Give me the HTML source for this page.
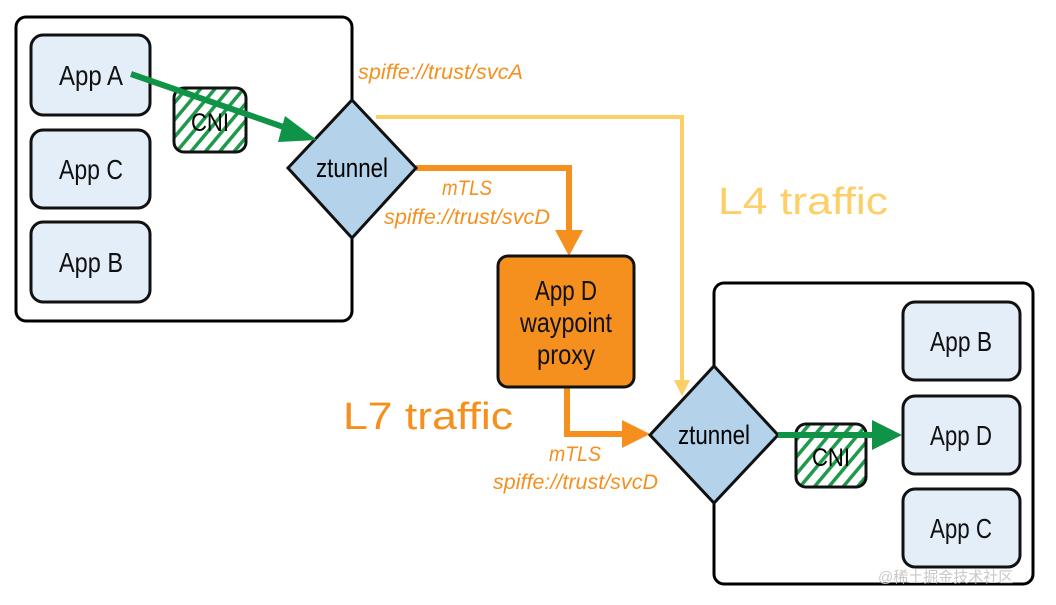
<!DOCTYPE html>
<html><head><meta charset="utf-8"><style>html,body{margin:0;padding:0;background:#fff}svg{display:block}</style></head><body>
<svg width="1056" height="605" viewBox="0 0 1056 605" xmlns="http://www.w3.org/2000/svg" font-family="Liberation Sans, sans-serif">
<defs>
<pattern id="h" width="11" height="11" patternUnits="userSpaceOnUse" patternTransform="rotate(40)">
<rect width="11" height="11" fill="#fff"/><rect x="0" y="0" width="3.5" height="11" fill="#1e9a4a"/>
</pattern>
</defs>
<rect x="16" y="17" width="336" height="304" rx="10" fill="#fff" stroke="#000" stroke-width="3"/>
<rect x="714" y="283" width="319" height="301" rx="10" fill="#fff" stroke="#000" stroke-width="3"/>
<g fill="#e3eef8" stroke="#111" stroke-width="3">
<rect x="31" y="35" width="119" height="80" rx="12"/>
<rect x="31" y="130" width="119" height="78" rx="12"/>
<rect x="31" y="222" width="119" height="80" rx="12"/>
<rect x="903" y="302" width="117" height="78" rx="12"/>
<rect x="903" y="396" width="117" height="78" rx="12"/>
<rect x="903" y="489" width="117" height="78" rx="12"/>
</g>
<g font-size="28" text-anchor="middle" fill="#111">
<text x="91" y="85" textLength="64" lengthAdjust="spacingAndGlyphs">App A</text>
<text x="91" y="179" textLength="64" lengthAdjust="spacingAndGlyphs">App C</text>
<text x="91" y="272" textLength="64" lengthAdjust="spacingAndGlyphs">App B</text>
<text x="961" y="351" textLength="62" lengthAdjust="spacingAndGlyphs">App B</text>
<text x="961" y="445" textLength="62" lengthAdjust="spacingAndGlyphs">App D</text>
<text x="961" y="538" textLength="62" lengthAdjust="spacingAndGlyphs">App C</text>
</g>
<rect x="174" y="88" width="72" height="64" rx="10" fill="url(#h)" stroke="#111" stroke-width="3"/>
<text x="210" y="131" font-size="25" text-anchor="middle" textLength="38" lengthAdjust="spacingAndGlyphs">CNI</text>
<rect x="796" y="424" width="70" height="63" rx="10" fill="url(#h)" stroke="#111" stroke-width="3"/>
<text x="831" y="466" font-size="25" text-anchor="middle" textLength="38" lengthAdjust="spacingAndGlyphs">CNI</text>
<polyline points="376,117 682,117 682,382" fill="none" stroke="#fcd066" stroke-width="4"/>
<polygon points="674,380 690,380 682,396" fill="#fcd066"/>
<polyline points="416,168 569,168 569,232" fill="none" stroke="#f5901e" stroke-width="6"/>
<polygon points="555,230 583,230 569,256" fill="#f5901e"/>
<polyline points="567,387 567,434 626,434" fill="none" stroke="#f5901e" stroke-width="6"/>
<polygon points="622,420 622,448 650,434" fill="#f5901e"/>
<rect x="498" y="256" width="136" height="131" rx="10" fill="#f5901e" stroke="#111" stroke-width="3"/>
<g font-size="28" text-anchor="middle" fill="#111">
<text x="566" y="300" textLength="62" lengthAdjust="spacingAndGlyphs">App D</text>
<text x="566" y="332" textLength="92" lengthAdjust="spacingAndGlyphs">waypoint</text>
<text x="566" y="364" textLength="58" lengthAdjust="spacingAndGlyphs">proxy</text>
</g>
<polygon points="352,100 416,168 352,238 288,168" fill="#b4d3ea" stroke="#111" stroke-width="3"/>
<text x="352" y="177" font-size="27" text-anchor="middle" textLength="72" lengthAdjust="spacingAndGlyphs">ztunnel</text>
<polygon points="714,366 778,435 714,503 650,435" fill="#b4d3ea" stroke="#111" stroke-width="3"/>
<text x="714" y="444" font-size="27" text-anchor="middle" textLength="72" lengthAdjust="spacingAndGlyphs">ztunnel</text>
<line x1="131" y1="74" x2="295" y2="131" stroke="#0f9347" stroke-width="6"/>
<polygon points="285,116 317,140 278,142" fill="#0f9347"/>
<line x1="778" y1="435" x2="876" y2="435" stroke="#0f9347" stroke-width="6"/>
<polygon points="872,420 902,435 872,450" fill="#0f9347"/>
<g fill="#f5901e" font-style="italic" font-size="21">
<text x="358" y="79" textLength="165" lengthAdjust="spacingAndGlyphs">spiffe://trust/svcA</text>
<text x="442" y="195" textLength="50" lengthAdjust="spacingAndGlyphs">mTLS</text>
<text x="384" y="224" textLength="166" lengthAdjust="spacingAndGlyphs">spiffe://trust/svcD</text>
<text x="549" y="461" textLength="52" lengthAdjust="spacingAndGlyphs">mTLS</text>
<text x="493" y="489" textLength="165" lengthAdjust="spacingAndGlyphs">spiffe://trust/svcD</text>
</g>
<text x="718" y="214" font-size="38" fill="#fcd066" textLength="170" lengthAdjust="spacingAndGlyphs">L4 traffic</text>
<text x="343" y="429" font-size="38" fill="#f5901e" textLength="170" lengthAdjust="spacingAndGlyphs">L7 traffic</text>
<text x="878" y="582" font-size="15" fill="#c8c8c8" font-family="Liberation Sans, Noto Sans CJK SC, sans-serif">@稀土掘金技术社区</text>
</svg>
</body></html>
